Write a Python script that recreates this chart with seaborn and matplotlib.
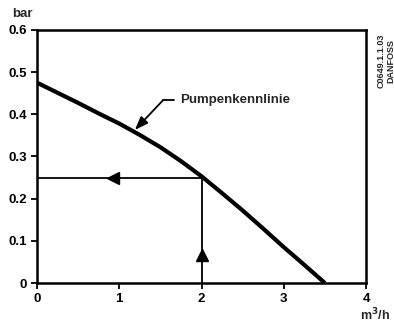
import matplotlib
matplotlib.use("Agg")
import matplotlib.pyplot as plt
import seaborn as sns
import pandas as pd

flow = [0, 0.25, 0.5, 0.75, 1.0, 1.25, 1.5, 1.75, 2.0, 2.25, 2.5, 2.75, 3.0, 3.25, 3.5]
pressure = [0.475, 0.451, 0.427, 0.402, 0.378, 0.351, 0.322, 0.289, 0.253,
            0.213, 0.172, 0.129, 0.085, 0.043, 0.0]
x_ticks = [0, 1, 2, 3, 4]
y_ticks = [0, 0.1, 0.2, 0.3, 0.4, 0.5, 0.6]
y_tick_labels = ["0", "0.1", "0.2", "0.3", "0.4", "0.5", "0.6"]
op_flow = 2.0
op_pressure = 0.25
curve_label = "Pumpenkennlinie"

sns.set_style("ticks")
plt.rcParams["font.family"] = ["Liberation Sans", "DejaVu Sans"]
plt.rcParams["font.weight"] = "bold"

fig = plt.figure(figsize=(3.94, 3.22), dpi=100)
ax = fig.add_axes([0.094, 0.121, 0.835, 0.786])

df = pd.DataFrame({"flow": flow, "pressure": pressure})
sns.lineplot(data=df, x="flow", y="pressure", ax=ax, color="black", linewidth=3.0,
             solid_capstyle="butt", solid_joinstyle="round")

# operating point lines
ax.plot([0, op_flow], [op_pressure, op_pressure], color="black", linewidth=1.3)
ax.plot([op_flow, op_flow], [0, op_pressure], color="black", linewidth=1.3)
ax.plot([0.92], [op_pressure], marker="<", color="black", markersize=8, linestyle="none")
ax.plot([op_flow], [0.066], marker="^", color="black", markersize=8, linestyle="none")

# annotation leader
ax.plot([1.66, 1.53], [0.433, 0.433], color="black", linewidth=1.3)
ax.annotate("", xy=(1.19, 0.363), xytext=(1.53, 0.433),
            arrowprops=dict(arrowstyle="-|>,head_length=0.8,head_width=0.3",
                            color="black", lw=1.3, shrinkA=0, shrinkB=0))
ax.text(1.74, 0.433, curve_label, fontsize=9.5, fontweight="bold", va="center", ha="left")

ax.set_xlim(0, 4)
ax.set_ylim(0, 0.6)
ax.set_xticks(x_ticks)
ax.set_xticklabels([str(t) for t in x_ticks])
ax.set_yticks(y_ticks)
ax.set_yticklabels(y_tick_labels)
ax.set_xlabel("")
ax.set_ylabel("")
for s in ax.spines.values():
    s.set_visible(True)
    s.set_linewidth(1.8)
    s.set_color("black")
ax.tick_params(axis="both", direction="out", length=4, width=1.3, labelsize=9.5,
               colors="black", pad=3)
for lab in ax.get_xticklabels() + ax.get_yticklabels():
    lab.set_fontweight("bold")

fig.text(12 / 394, 1 - 14 / 322, "bar", fontsize=9.5, fontweight="bold", ha="left", va="center")
fig.text(390 / 394, 1 - 315 / 322, "m$^3$/h", fontsize=9, fontweight="bold", ha="right", va="center")
fig.text(386 / 394, 1 - 61 / 322, "C0649.1.1.03\nDANFOSS", fontsize=6.5, fontweight="bold",
         rotation=90, ha="center", va="center", linespacing=1.0)

fig.savefig("out.png", dpi=100)
